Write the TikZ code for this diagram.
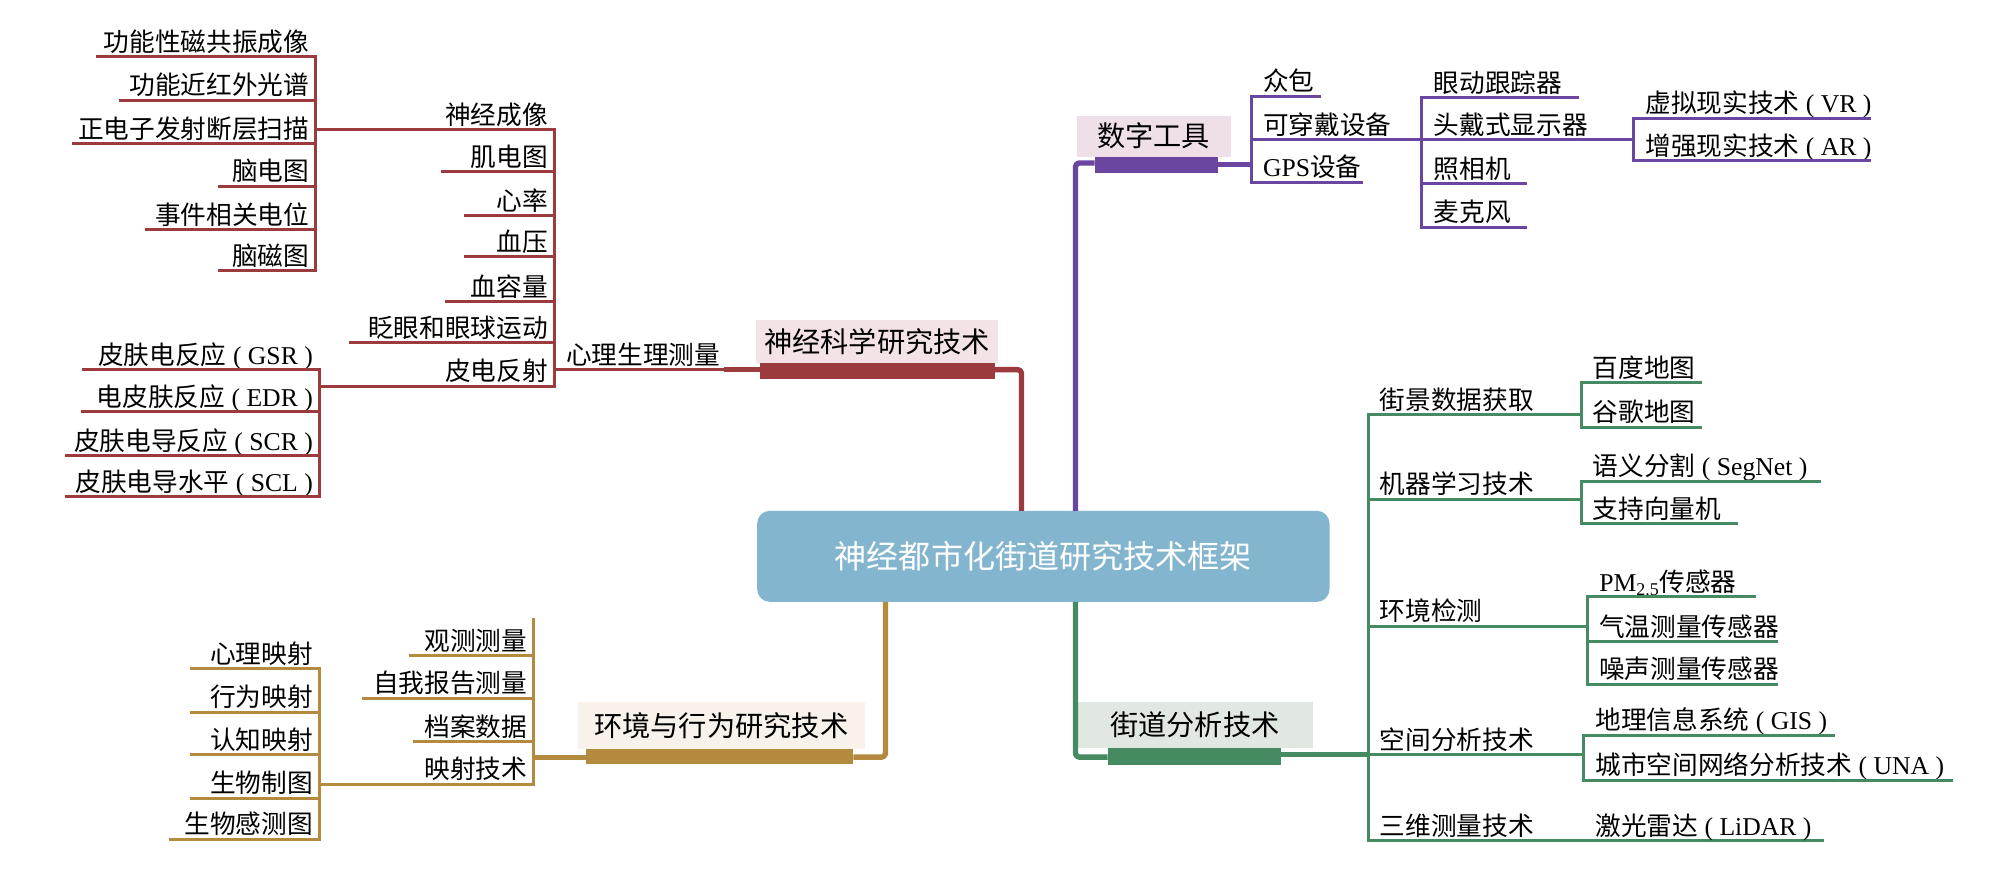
\documentclass[tikz,border=0pt]{standalone}
\usepackage{fontspec}
\setmainfont{Liberation Serif}
\newfontfamily\cjk{Noto Sans CJK SC}
\newcommand\latn[1]{{\rmfamily #1}}
\newcommand\pabbr[1]{{\rmfamily\ ( #1 )}}
\definecolor{cR}{HTML}{9C3B3D}
\definecolor{cRb}{HTML}{F3E2E6}
\definecolor{cP}{HTML}{6B46A0}
\definecolor{cPb}{HTML}{EEDFE9}
\definecolor{cG}{HTML}{B38A3E}
\definecolor{cGb}{HTML}{F8F2EA}
\definecolor{cN}{HTML}{468A62}
\definecolor{cNb}{HTML}{E1E7E1}
\definecolor{cC}{HTML}{83B6CE}
\tikzset{
  leaf/.style={font=\cjk\fontsize{20}{24}\selectfont, inner xsep=0pt, inner ysep=1.5pt, text depth=2.5pt, text height=15pt},
  ln/.style={line width=2.3pt, line cap=rect},
  mainln/.style={line width=4.2pt, line join=round, rounded corners=3pt},
  conn/.style={line width=4pt},
  lbl/.style={font=\cjk\fontsize{22}{26}\selectfont, inner sep=0pt},
  central/.style={font=\cjk\fontsize{25}{30}\selectfont, text=white, fill=cC, rounded corners=10pt, inner sep=0pt}
}
\newcommand\mmL[6]{%
  \node[leaf,anchor=south east] (#1) at (#3-5,#4) {#6};
  \draw[#2,ln] (#5,#4) -- (#3,#4);}
\newcommand\mmR[6]{%
  \node[leaf,anchor=south west] (#1) at (#3+9,#4) {#6};
  \draw[#2,ln] (#3,#4) -- (#5,#4);}
\begin{document}
\begin{tikzpicture}[x=1pt,y=-1pt]
\useasboundingbox[fill=white] (0,0) rectangle (1560,686);

% central
\node[central, minimum width=446pt, minimum height=71pt] (root) at (813,433.5) {神经都市化街道研究技术框架};

% ===== red branch =====
\draw[cR,mainln] (775,288) -- (796,288) -- (796,398);
\node[lbl, fill=cRb, minimum width=189pt, minimum height=34pt] (ns) at (683.5,266) {神经科学研究技术};
\fill[cR] (592,283) rectangle (775,295);
\draw[cR,conn] (592,288) -- (564,288);

\mmR{psy}{cR}{432}{288}{566}{心理生理测量}
\mmL{fmri}{cR}{246}{44}{76}{功能性磁共振成像}
\mmL{fnirs}{cR}{246}{78}{94}{功能近红外光谱}
\mmL{pet}{cR}{246}{112}{57}{正电子发射断层扫描}
\mmL{eeg}{cR}{246}{145}{171}{脑电图}
\mmL{erp}{cR}{246}{179}{114}{事件相关电位}
\mmL{megg}{cR}{246}{211}{171}{脑磁图}
\draw[cR,ln] (246,44) -- (246,211);

\mmL{nimg}{cR}{432}{101}{246}{神经成像}
\mmL{emg}{cR}{432}{134}{345}{肌电图}
\mmL{hr}{cR}{432}{168}{363}{心率}
\mmL{bp}{cR}{432}{200}{363}{血压}
\mmL{bv}{cR}{432}{235}{348}{血容量}
\mmL{eye}{cR}{432}{267}{273}{眨眼和眼球运动}
\mmL{skin}{cR}{432}{301}{249}{皮电反射}
\draw[cR,ln] (432,101) -- (432,301);

\mmL{gsr}{cR}{249}{288}{65}{皮肤电反应\pabbr{GSR}}
\mmL{edr}{cR}{249}{321}{64}{电皮肤反应\pabbr{EDR}}
\mmL{scr}{cR}{249}{355}{52}{皮肤电导反应\pabbr{SCR}}
\mmL{scl}{cR}{249}{387}{52}{皮肤电导水平\pabbr{SCL}}
\draw[cR,ln] (249,288) -- (249,387);

% ===== purple branch =====
\node[lbl, fill=cPb, minimum width=120pt, minimum height=32pt] (dt) at (899,106) {数字工具};
\draw[cP,mainln] (838,398) -- (838,127) -- (853,127);
\fill[cP] (853,122) rectangle (949,135);
\draw[cP,conn] (949,128) -- (975,128);

\mmR{d1}{cP}{975}{75}{1028}{众包}
\mmR{d2}{cP}{975}{109}{1108}{可穿戴设备}
\mmR{d3}{cP}{975}{142}{1061}{\latn{GPS}设备}
\draw[cP,ln] (975,75) -- (975,142);
\mmR{w1}{cP}{1108}{76}{1229}{眼动跟踪器}
\mmR{w2}{cP}{1108}{109}{1273}{头戴式显示器}
\mmR{w3}{cP}{1108}{143}{1189}{照相机}
\mmR{w4}{cP}{1108}{177}{1189}{麦克风}
\draw[cP,ln] (1108,76) -- (1108,177);
\mmR{v1}{cP}{1273}{92}{1457}{虚拟现实技术\pabbr{VR}}
\mmR{v2}{cP}{1273}{125}{1457}{增强现实技术\pabbr{AR}}
\draw[cP,ln] (1273,92) -- (1273,125);

% ===== gold branch =====
\draw[cG,mainln] (690,469) -- (690,590) -- (665,590);
\node[lbl, fill=cGb, minimum width=224pt, minimum height=37pt] (eb) at (562,565.5) {环境与行为研究技术};
\fill[cG] (457,584) rectangle (665,595);
\draw[cG,conn] (457,590) -- (416,590);

\mmL{g1}{cG}{416}{511}{320}{观测测量}
\mmL{g2}{cG}{416}{544}{283}{自我报告测量}
\mmL{g3}{cG}{416}{578}{323}{档案数据}
\mmL{g4}{cG}{416}{611}{249}{映射技术}
\draw[cG,ln] (416,483) -- (416,611);
\mmL{m1}{cG}{249}{521}{149}{心理映射}
\mmL{m2}{cG}{249}{555}{149}{行为映射}
\mmL{m3}{cG}{249}{588}{149}{认知映射}
\mmL{m4}{cG}{249}{622}{149}{生物制图}
\mmL{m5}{cG}{249}{654}{133}{生物感测图}
\draw[cG,ln] (249,521) -- (249,654);

% ===== green branch =====
\node[lbl, fill=cNb, minimum width=184pt, minimum height=36pt] (sa) at (931,565) {街道分析技术};
\draw[cN,mainln] (838,469) -- (838,590) -- (863,590);
\fill[cN] (863,583) rectangle (998,596);
\draw[cN,conn] (998,588) -- (1066,588);

\mmR{s1}{cN}{1066}{323}{1232}{街景数据获取}
\mmR{s2}{cN}{1066}{389}{1232}{机器学习技术}
\mmR{s3}{cN}{1066}{488}{1237}{环境检测}
\mmR{s4}{cN}{1066}{588}{1234}{空间分析技术}
\mmR{s5}{cN}{1066}{655}{1420}{三维测量技术}
\draw[cN,ln] (1066,323) -- (1066,655);
\mmR{b1}{cN}{1232}{298}{1325}{百度地图}
\mmR{b2}{cN}{1232}{333}{1325}{谷歌地图}
\draw[cN,ln] (1232,298) -- (1232,333);
\mmR{ml1}{cN}{1232}{375}{1418}{语义分割\pabbr{SegNet}}
\mmR{ml2}{cN}{1232}{408}{1353}{支持向量机}
\draw[cN,ln] (1232,375) -- (1232,408);
\mmR{e1}{cN}{1237}{465}{1367}{\latn{PM\textsubscript{2.5}}传感器}
\mmR{e2}{cN}{1237}{500}{1384}{气温测量传感器}
\mmR{e3}{cN}{1237}{533}{1384}{噪声测量传感器}
\draw[cN,ln] (1237,465) -- (1237,533);
\mmR{sp1}{cN}{1234}{573}{1429}{地理信息系统\pabbr{GIS}}
\mmR{sp2}{cN}{1234}{608}{1521}{城市空间网络分析技术\pabbr{UNA}}
\draw[cN,ln] (1234,573) -- (1234,608);
\node[leaf,anchor=south west] (lidar) at (1243,655) {激光雷达\pabbr{LiDAR}};
\end{tikzpicture}
\end{document}
